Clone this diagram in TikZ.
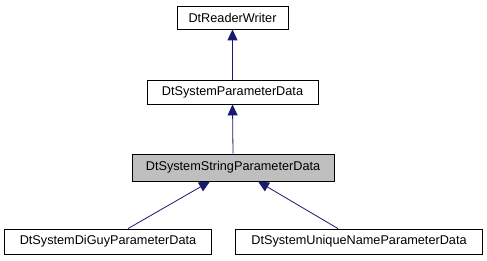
\documentclass[tikz,border=0pt]{standalone}
\usepackage{fontspec}
\setmainfont{Liberation Sans}
\usetikzlibrary{arrows.meta}
\definecolor{edge}{HTML}{191970}
\definecolor{hl}{HTML}{BFBFBF}
\begin{document}
\begin{tikzpicture}[x=1pt,y=-1pt,
  cls/.style={draw=black,line width=0.8pt,rectangle,inner sep=0pt,font=\fontsize{12.7}{14}\selectfont},
  inh/.style={draw=edge,line width=0.8pt,-{Triangle[length=11pt,width=10pt,fill=edge]}}]
\useasboundingbox (0,0) rectangle (487,261);
\node[cls,minimum width=111pt,minimum height=23pt] (rw) at (232.5,17.5) {DtReaderWriter};
\node[cls,minimum width=171pt,minimum height=24pt] (spd) at (232.5,92) {DtSystemParameterData};
\node[cls,fill=hl,minimum width=202pt,minimum height=27pt] (sspd) at (233,167.5) {DtSystemStringParameterData};
\node[cls,minimum width=207pt,minimum height=25pt] (dg) at (108,241.5) {DtSystemDiGuyParameterData};
\node[cls,minimum width=247pt,minimum height=25pt] (un) at (359,241.5) {DtSystemUniqueNameParameterData};
\draw[inh] (spd.north) -- (rw.south);
\draw[inh] (sspd.north) -- (spd.south);
\draw[inh] ([xshift=20pt]dg.north) -- ([xshift=-23pt]sspd.south);
\draw[inh] ([xshift=-21pt]un.north) -- ([xshift=25pt]sspd.south);
\end{tikzpicture}
\end{document}
